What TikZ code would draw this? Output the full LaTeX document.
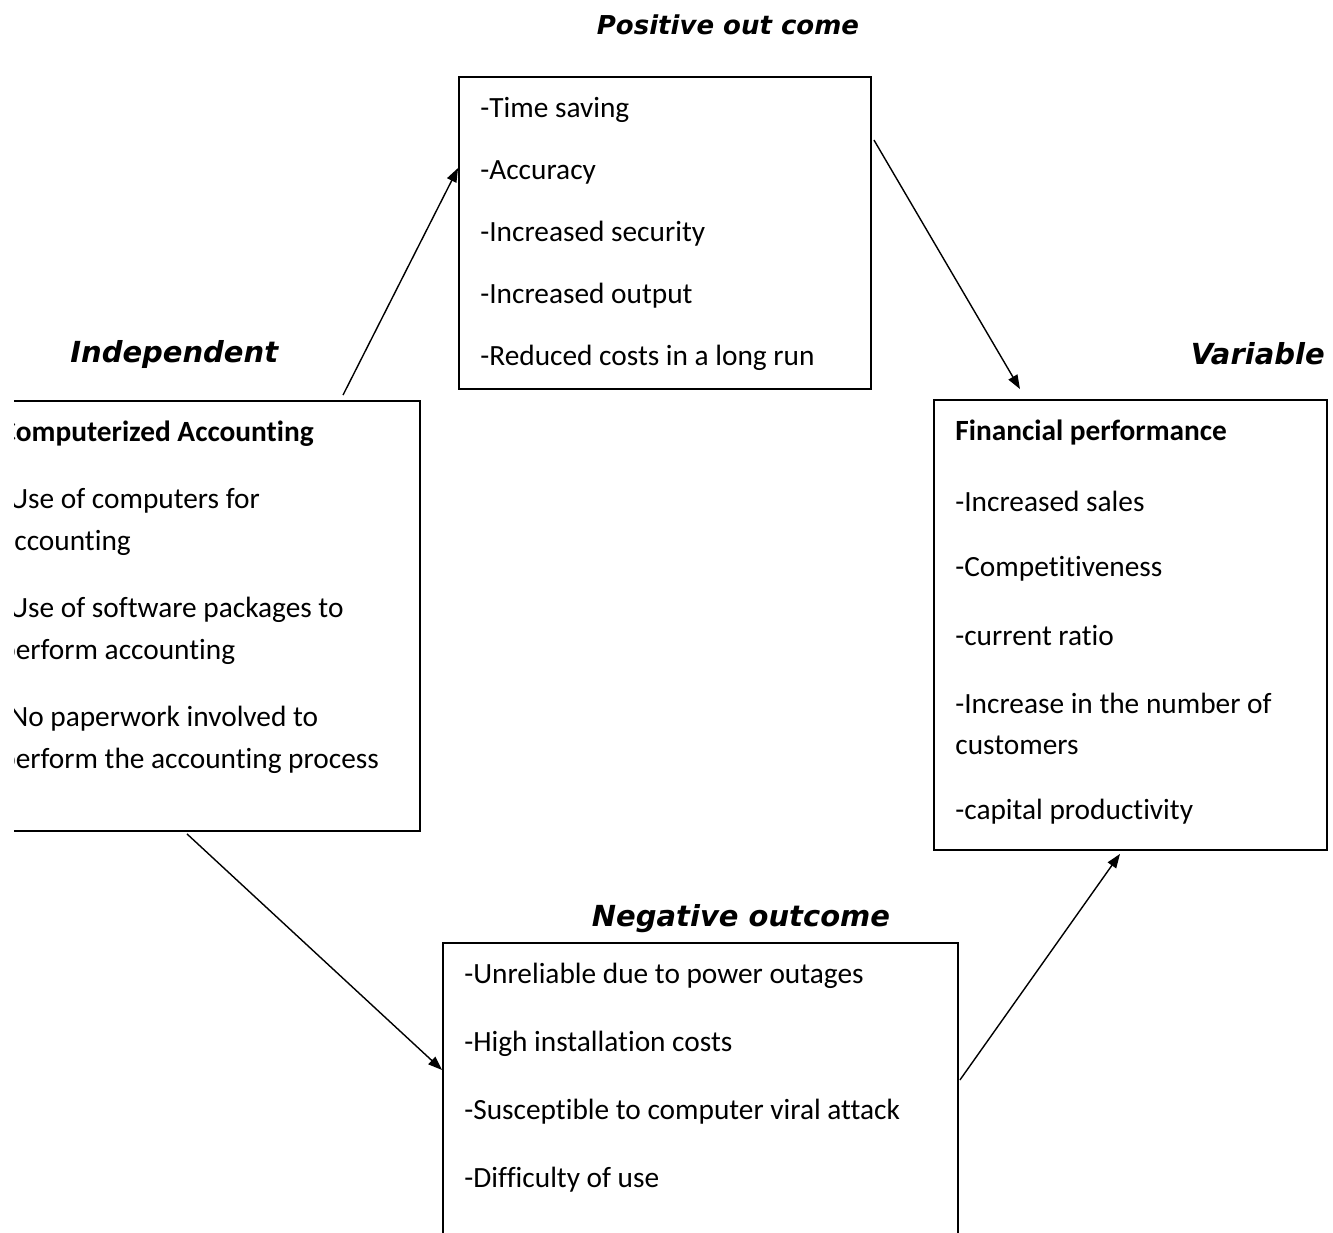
\documentclass[tikz,border=0pt]{standalone}
\usepackage{fontspec}
\setmainfont{Carlito}[Ligatures=CommonOff]
\newfontfamily\headfont{DejaVu Sans}
\usetikzlibrary{calc,arrows.meta}

\begin{document}
\begin{tikzpicture}[x=0.02cm, y=-0.02cm,
        box/.style={draw, line width=1.1pt, inner sep=0pt},
        item/.style={anchor=west, inner sep=0pt,
                font=\fontsize{16.7}{20}\selectfont},
        head/.style={inner sep=0pt,
                font=\fontsize{16.5}{20}\selectfont\headfont\bfseries\itshape},
        link/.style={line width=0.8pt,
                -{Triangle[length=8pt, width=5.8pt]}}]
    \useasboundingbox (0,0) rectangle (1333,1233);
    \clip (14,0) rectangle (1333,1233);

    \node[box, minimum width=8.24cm, minimum height=6.24cm] (pos) at (665,233) {};
    \node[box, minimum width=8.8cm, minimum height=8.6cm] (comp) at (200,616) {};
    \node[box, minimum width=7.86cm, minimum height=9cm] (fin) at (1130.5,625) {};
    \node[box, minimum width=10.3cm, minimum height=6.34cm] (neg) at (700.5,1101.5) {};

    \node[head, font=\fontsize{14.8}{18}\selectfont\headfont\bfseries\itshape]
        (Tpos) at (728,25) {Positive out come};
    \node[head, anchor=west] (Tind) at (70,355) {Independent};
    \node[head, anchor=east] (Tvar) at (1325,354) {Variable};
    \node[head] (Tneg) at (741,919) {Negative outcome};

    \foreach \t [count=\i] in {-Time saving, -Accuracy, -Increased security,
            -Increased output, -Reduced costs in a long run} {
            \node[item] (P\i) at (480,{110+62*(\i-1)}) {\t};
        }
    \foreach \y/\t [count=\i] in {434/\textbf{Computerized Accounting},
            501/-Use of computers for, 543/accounting,
            610/-Use of software packages to, 652/perform accounting,
            719/-No paperwork involved to, 761/perform the accounting process} {
            \node[item] (C\i) at (0,\y) {\t};
        }
    \foreach \y/\t [count=\i] in {433/\textbf{Financial performance},
            501/-Increased sales, 569/-Competitiveness, 636/-current ratio,
            703/-Increase in the number of, 745/customers,
            812/-capital productivity} {
            \node[item] (F\i) at (955,\y) {\t};
        }
    \foreach \t [count=\i] in {-Unreliable due to power outages,
            -High installation costs, -Susceptible to computer viral attack,
            -Difficulty of use} {
            \node[item] (N\i) at (464,{976+68*(\i-1)}) {\t};
        }

    \draw[link] ($(comp.north)+(143,-5)$) -- ($(pos.west)+(0,-65)$);
    \draw[link] ($(pos.east)+(2,-93)$) -- ($(fin.north)+(-110.5,-10)$);
    \draw[link] ($(comp.south)+(-13,2)$) -- ($(neg.west)+(0,-31.5)$);
    \draw[link] ($(neg.east)+(1,-21.5)$) -- ($(fin.south)+(-10.5,3)$);
\end{tikzpicture}
\end{document}
